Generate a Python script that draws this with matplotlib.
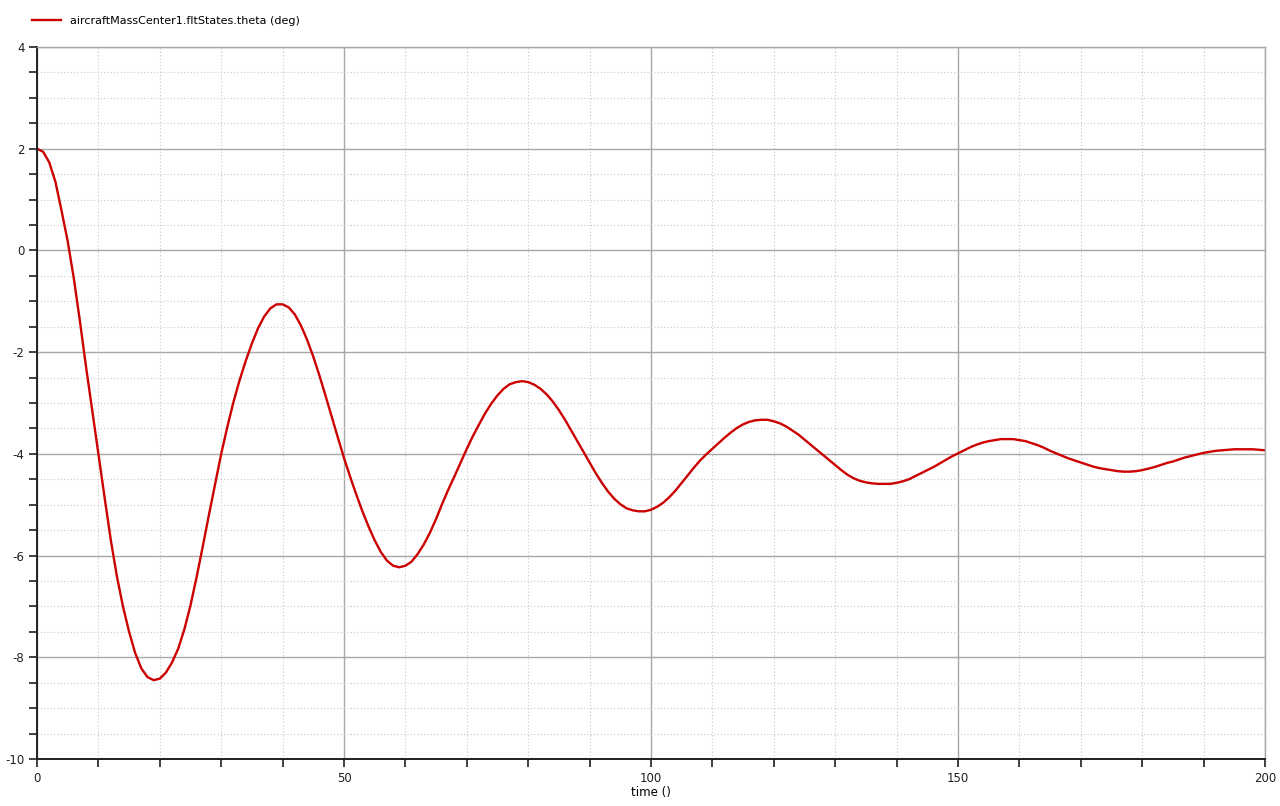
import numpy as np
import matplotlib
matplotlib.use("Agg")
import matplotlib.pyplot as plt
from matplotlib.ticker import MultipleLocator

plt.rcParams["font.family"] = ["DejaVu Sans"]
plt.rcParams["axes.unicode_minus"] = False

# sample times (one per second) and theta values
time = np.arange(0, 201, 1)
theta = [
    2.0, 1.94, 1.73, 1.35, 0.78, 0.18, -0.55, -1.4, -2.3, -3.15,        # 0-9
    -4.0, -4.85, -5.68, -6.4, -7.0, -7.5, -7.92, -8.22, -8.39, -8.45,   # 10-19
    -8.42, -8.3, -8.1, -7.83, -7.45, -6.98, -6.42, -5.82, -5.2, -4.6,   # 20-29
    -4.0, -3.47, -2.98, -2.55, -2.17, -1.83, -1.53, -1.3, -1.14, -1.06, # 30-39
    -1.06, -1.12, -1.26, -1.48, -1.76, -2.09, -2.46, -2.86, -3.27, -3.68, # 40-49
    -4.08, -4.45, -4.8, -5.13, -5.43, -5.7, -5.93, -6.1, -6.2, -6.23,   # 50-59
    -6.2, -6.12, -5.97, -5.78, -5.55, -5.28, -4.98, -4.7, -4.44, -4.17, # 60-69
    -3.9, -3.65, -3.42, -3.2, -3.01, -2.85, -2.72, -2.63, -2.59, -2.57, # 70-79
    -2.59, -2.64, -2.72, -2.83, -2.97, -3.14, -3.33, -3.54, -3.75, -3.96, # 80-89
    -4.17, -4.38, -4.57, -4.74, -4.88, -4.99, -5.07, -5.11, -5.13, -5.13, # 90-99
    -5.1, -5.04, -4.96, -4.85, -4.72, -4.57, -4.42, -4.27, -4.13, -4.01, # 100-109
    -3.9, -3.79, -3.68, -3.58, -3.49, -3.42, -3.37, -3.34, -3.33, -3.33, # 110-119
    -3.36, -3.4, -3.46, -3.54, -3.62, -3.72, -3.82, -3.92, -4.02, -4.12, # 120-129
    -4.22, -4.32, -4.41, -4.48, -4.53, -4.56, -4.58, -4.59, -4.59, -4.59, # 130-139
    -4.57, -4.54, -4.5, -4.44, -4.38, -4.32, -4.26, -4.19, -4.12, -4.05, # 140-149
    -3.99, -3.93, -3.87, -3.82, -3.78, -3.75, -3.73, -3.71, -3.71, -3.71, # 150-159
    -3.73, -3.75, -3.79, -3.83, -3.88, -3.94, -3.99, -4.04, -4.09, -4.13, # 160-169
    -4.17, -4.21, -4.25, -4.28, -4.3, -4.32, -4.34, -4.35, -4.35, -4.34, # 170-179
    -4.32, -4.29, -4.26, -4.22, -4.18, -4.15, -4.11, -4.07, -4.04, -4.01, # 180-189
    -3.98, -3.96, -3.94, -3.93, -3.92, -3.91, -3.91, -3.91, -3.91, -3.92, # 190-199
    -3.93,                                                              # 200
]
label = "aircraftMassCenter1.fltStates.theta (deg)"

fig = plt.figure(figsize=(12.8, 8.06), dpi=100)
ax = fig.add_axes([37 / 1280, 1 - 759 / 806, (1265 - 37) / 1280, (759 - 47) / 806])

ax.plot(time, theta, color="#cc0000", linewidth=1.7, label=label)

ax.set_xlim(0, 200)
ax.set_ylim(-10, 4)
ax.xaxis.set_major_locator(MultipleLocator(50))
ax.xaxis.set_minor_locator(MultipleLocator(10))
ax.yaxis.set_major_locator(MultipleLocator(2))
ax.yaxis.set_minor_locator(MultipleLocator(0.5))

ax.grid(which="major", color="#a8a8a8", linewidth=1.0, linestyle="-")
ax.grid(which="minor", color="#c8c8c8", linewidth=0.8, linestyle=(0, (1, 2)))
ax.set_axisbelow(True)

for s in ["top", "right"]:
    ax.spines[s].set_color("#a8a8a8")
    ax.spines[s].set_linewidth(1.0)
for s in ["left", "bottom"]:
    ax.spines[s].set_color("#202020")
    ax.spines[s].set_linewidth(1.4)

ax.tick_params(which="both", direction="out", length=6, width=1.2, color="#202020",
               labelsize=8.5, labelcolor="#202020")
ax.tick_params(axis="x", pad=3)
ax.tick_params(axis="y", pad=3)

ax.set_xlabel("time ()", fontsize=8.5, labelpad=1)

ax.legend(loc="lower left", bbox_to_anchor=(28 / 1280, 1 - 30 / 806),
          bbox_transform=fig.transFigure, frameon=False, fontsize=8,
          handlelength=2.6, borderaxespad=0)

fig.savefig("out.png", dpi=100)
